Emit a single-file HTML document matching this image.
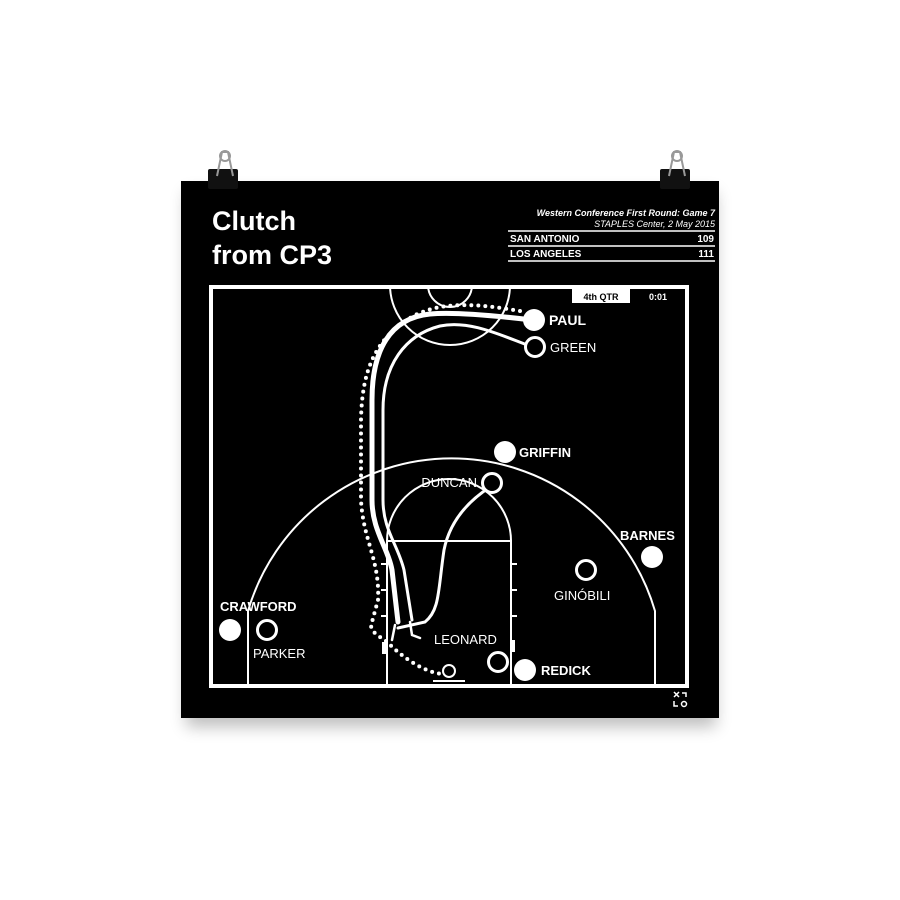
<!DOCTYPE html>
<html><head><meta charset="utf-8"><style>
html,body{margin:0;padding:0;background:#fff;width:900px;height:900px;overflow:hidden}
svg{display:block}
text{font-family:"Liberation Sans",Arial,sans-serif}
</style></head><body>
<svg width="900" height="900" viewBox="0 0 900 900" xmlns="http://www.w3.org/2000/svg">
<defs>
<filter id="sh" x="-10%" y="-10%" width="120%" height="130%"><feGaussianBlur stdDeviation="8"/></filter>
<clipPath id="court"><rect x="213" y="289" width="472" height="395"/></clipPath>
</defs>
<rect x="186" y="192" width="530" height="535" fill="#000" opacity="0.25" filter="url(#sh)"/>
<rect x="181" y="181" width="538" height="537" fill="#000"/>
<!-- clips -->
<g fill="#111"><rect x="208" y="169" width="30" height="20" rx="2"/><rect x="660" y="169" width="30" height="20" rx="2"/></g>
<g fill="none" stroke="#999" stroke-width="2"><path d="M217 176 L222 152 L228 152 L233 176"/><circle cx="225" cy="156" r="5"/><path d="M669 176 L674 152 L680 152 L685 176"/><circle cx="677" cy="156" r="5"/></g>
<!-- title -->
<text x="212" y="230" fill="#fff" font-size="27" font-weight="bold">Clutch</text>
<text x="212" y="264" fill="#fff" font-size="27" font-weight="bold">from CP3</text>
<text x="715" y="216" fill="#fff" font-size="9" font-style="italic" font-weight="bold" text-anchor="end">Western Conference First Round: Game 7</text>
<text x="715" y="227" fill="#fff" font-size="9" font-style="italic" text-anchor="end">STAPLES Center, 2 May 2015</text>
<g stroke="#fff" stroke-width="1.5"><line x1="508" y1="231" x2="715" y2="231"/><line x1="508" y1="246" x2="715" y2="246"/><line x1="508" y1="261" x2="715" y2="261"/></g>
<text x="510" y="242" fill="#fff" font-size="10" font-weight="bold">SAN ANTONIO</text>
<text x="714" y="242" fill="#fff" font-size="10" font-weight="bold" text-anchor="end">109</text>
<text x="510" y="257" fill="#fff" font-size="10" font-weight="bold">LOS ANGELES</text>
<text x="714" y="257" fill="#fff" font-size="10" font-weight="bold" text-anchor="end">111</text>
<!-- court -->
<rect x="211" y="287" width="476" height="399" fill="none" stroke="#fff" stroke-width="4"/>
<g clip-path="url(#court)" fill="none" stroke="#fff" stroke-width="2">
<circle cx="450" cy="285" r="60"/>
<circle cx="450" cy="285" r="22"/>
<path d="M248 686 L248 611 A212 212 0 0 1 655 611 L655 686"/>
<rect x="387" y="541" width="124" height="150"/>
<path d="M387 541 A62 62 0 0 1 511 541"/>
<path d="M511 564h6M511 590h6M511 616h6M387 590h-6M387 616h-6M387 564h-6"/>
</g>
<rect x="511" y="640" width="4" height="12" fill="#fff"/>
<rect x="382" y="642" width="4" height="12" fill="#fff"/>
<!-- score box -->
<rect x="572" y="288" width="58" height="15" fill="#fff"/>
<text x="601" y="300" font-size="9" font-weight="bold" text-anchor="middle" fill="#000">4th QTR</text>
<text x="658" y="300" font-size="9" font-weight="bold" text-anchor="middle" fill="#fff">0:01</text>
<!-- paths -->
<g fill="none" stroke="#fff" stroke-linecap="round">
<path d="M532 320 C490 315 450 312 430 314 C390 318 372 350 372 400 L372 500 C372 530 388 548 392 570 L398 622" stroke-width="5"/>
<path d="M530 346 C500 335 470 320 440 326 C405 335 383 365 383 410 L383 500 C383 530 398 545 404 570 L412 620" stroke-width="3"/>
<path d="M490 487 C470 500 450 520 444 550 C438 590 440 610 425 622 L398 628" stroke-width="3"/>
<path d="M520 311 C480 304 440 300 410 318 C375 340 362 370 361 420 L361 500 C363 540 380 560 378 600 L372 622 C368 630 378 636 385 640 C405 660 425 672 442 674" stroke-width="4" stroke-dasharray="0 7"/>
<path d="M410 622 L412 635 L420 638" stroke-width="2.5"/>
<path d="M395 625 L392 640" stroke-width="2.5"/>
</g>
<!-- ball -->
<circle cx="449" cy="671" r="6" fill="none" stroke="#fff" stroke-width="2"/>
<line x1="433" y1="681" x2="465" y2="681" stroke="#fff" stroke-width="2"/>
<!-- players -->
<g fill="#fff"><circle cx="534" cy="320" r="11"/><circle cx="505" cy="452" r="11"/><circle cx="652" cy="557" r="11"/><circle cx="230" cy="630" r="11"/><circle cx="525" cy="670" r="11"/></g>
<g fill="#000" stroke="#fff" stroke-width="3"><circle cx="535" cy="347" r="9.5"/><circle cx="492" cy="483" r="9.5"/><circle cx="586" cy="570" r="9.5"/><circle cx="267" cy="630" r="9.5"/><circle cx="498" cy="662" r="9.5"/></g>
<g fill="#fff" font-size="13">
<text x="549" y="325" font-weight="bold" font-size="14">PAUL</text>
<text x="550" y="352">GREEN</text>
<text x="519" y="457" font-weight="bold">GRIFFIN</text>
<text x="477" y="487" text-anchor="end">DUNCAN</text>
<text x="620" y="540" font-weight="bold">BARNES</text>
<text x="554" y="600">GINÓBILI</text>
<text x="220" y="611" font-weight="bold">CRAWFORD</text>
<text x="253" y="658">PARKER</text>
<text x="434" y="644">LEONARD</text>
<text x="541" y="675" font-weight="bold">REDICK</text>
</g>
<!-- logo -->
<g stroke="#fff" stroke-width="1.5" fill="none"><path d="M674 692l5 5M679 692l-5 5M682 693h4v4M674 701v5h4"/><circle cx="684" cy="704" r="2.5"/></g>
</svg>
</body></html>
